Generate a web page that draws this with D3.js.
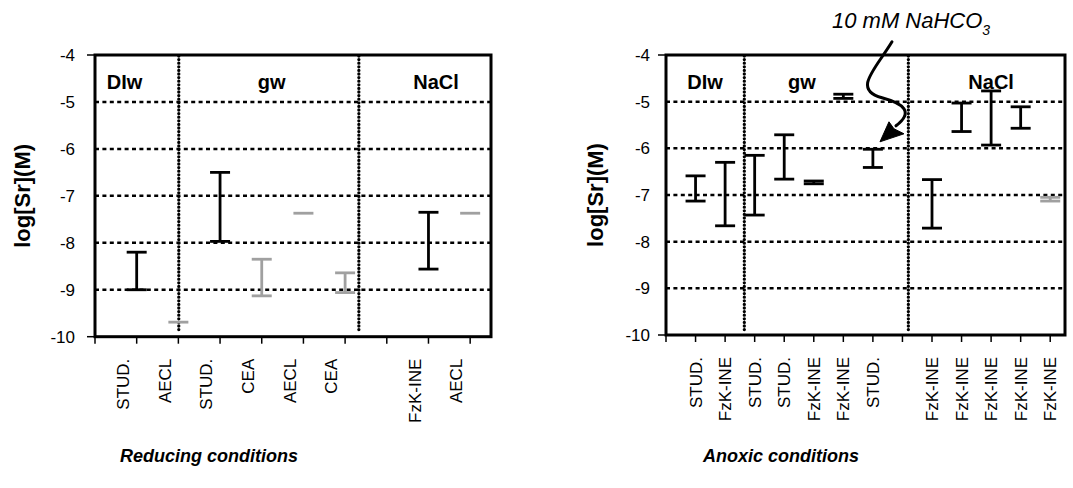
<!DOCTYPE html>
<html>
<head>
<meta charset="utf-8">
<script src="https://cdn.jsdelivr.net/npm/d3@7/dist/d3.min.js"></script>
<style>
  html, body { margin: 0; padding: 0; background: #fff; }
  svg { display: block; font-family: "Liberation Sans", Arial, Helvetica, sans-serif; }
</style>
</head>
<body>
<svg id="chart" width="1073" height="488"></svg>
<script>
// ---------------- data ----------------
const yTicks = [-4, -5, -6, -7, -8, -9, -10];
const yGrid = [-5, -6, -7, -8, -9];
const groupLabels = ["DIw", "gw", "NaCl"];

// Reducing conditions
const leftCats   = ["STUD.", "AECL", "STUD.", "CEA", "AECL", "CEA", "", "FzK-INE", "AECL"];
const leftHigh   = [-8.20, -9.69, -6.50, -8.35, -7.37, -8.64, null, -7.35, -7.37];
const leftLow    = [-9.00, -9.69, -7.97, -9.13, -7.37, -9.06, null, -8.56, -7.37];
const leftSeries = ["exp", "lit", "exp", "lit", "lit", "lit", null, "exp", "lit"];

// Anoxic conditions
const rightCats   = ["STUD.", "FzK-INE", "STUD.", "STUD.", "FzK-INE", "FzK-INE", "STUD.", "",
                     "FzK-INE", "FzK-INE", "FzK-INE", "FzK-INE", "FzK-INE"];
const rightHigh   = [-6.59, -6.30, -6.15, -5.71, -6.70, -4.84, -6.02, null, -6.67, -5.03, -4.77, -5.11, -7.05];
const rightLow    = [-7.13, -7.66, -7.43, -6.66, -6.76, -4.93, -6.41, null, -7.71, -5.64, -5.93, -5.57, -7.13];
const rightSeries = ["exp", "exp", "exp", "exp", "exp", "exp", "exp", null, "exp", "exp", "exp", "exp", "lit"];

const annotationText = "10 mM  NaHCO";
const annotationSub = "3";
const titles = ["Reducing conditions", "Anoxic conditions"];

// ---------------- layout ----------------
const colors = { exp: "#000000", lit: "#a0a0a0" };
const svg = d3.select("#chart");

const panels = [
  { cats: leftCats, high: leftHigh, low: leftLow, series: leftSeries,
    x0: 95, x1: 491, y0: 55, y1: 336.7, labelShift: -0.33, yLabelGap: 20, yTitleX: 22.5,
    dividers: [2.01, 6.33], groupPos: [0.71, 4.24, 8.18], title: titles[0], titleX: 209 },
  { cats: rightCats, high: rightHigh, low: rightLow, series: rightSeries,
    x0: 666, x1: 1065, y0: 55, y1: 335, labelShift: 0, yLabelGap: 16, yTitleX: 595,
    dividers: [2.65, 8.2], groupPos: [1.32, 4.6, 11.0], title: titles[1], titleX: 781 }
];

panels.forEach((p, pi) => {
  const n = p.cats.length;
  const x = d3.scaleLinear().domain([0, n + 0.5]).range([p.x0, p.x1]);
  const y = d3.scaleLinear().domain([-10, -4]).range([p.y1, p.y0]);
  p.x = x; p.y = y;
  const g = svg.append("g");

  // horizontal dashed grid
  g.selectAll("line.grid").data(yGrid).join("line")
    .attr("x1", p.x0).attr("x2", p.x1)
    .attr("y1", d => y(d)).attr("y2", d => y(d))
    .attr("stroke", "#000").attr("stroke-width", 2.5)
    .attr("stroke-dasharray", "4,3.4");

  // vertical dotted dividers
  g.selectAll("line.div").data(p.dividers).join("line")
    .attr("x1", d => x(d)).attr("x2", d => x(d))
    .attr("y1", p.y0 + 1).attr("y2", p.y1 - 4)
    .attr("stroke", "#000").attr("stroke-width", 3.3)
    .attr("stroke-linecap", "round")
    .attr("stroke-dasharray", "0,3.6");

  // frame
  g.append("rect")
    .attr("x", p.x0).attr("y", p.y0)
    .attr("width", p.x1 - p.x0).attr("height", p.y1 - p.y0)
    .attr("fill", "none").attr("stroke", "#000").attr("stroke-width", 3);

  // y axis tick labels
  g.selectAll("text.ytick").data(yTicks).join("text")
    .attr("x", p.x0 - p.yLabelGap).attr("y", d => y(d)).attr("dy", "0.35em")
    .attr("text-anchor", "end").attr("font-size", 17).attr("fill", "#000")
    .text(d => d);
  // y tick marks at the ends
  g.selectAll("line.ytm").data([yTicks[0], yTicks[yTicks.length - 1]]).join("line")
    .attr("x1", p.x0 - 8).attr("x2", p.x0)
    .attr("y1", d => y(d)).attr("y2", d => y(d))
    .attr("stroke", "#000").attr("stroke-width", 1.5);

  // y axis title
  g.append("text")
    .attr("transform", `translate(${p.yTitleX},${(p.y0 + p.y1) / 2}) rotate(-90)`)
    .attr("dy", "0.35em")
    .attr("text-anchor", "middle").attr("font-size", 22).attr("font-weight", "bold")
    .text("log[Sr](M)");

  // x ticks
  const idx = d3.range(0, n + 1);
  g.selectAll("line.xtm").data(idx).join("line")
    .attr("x1", d => x(d)).attr("x2", d => x(d))
    .attr("y1", p.y1).attr("y2", p.y1 + 7)
    .attr("stroke", "#000").attr("stroke-width", 1.5);

  // x labels
  g.selectAll("text.xl").data(p.cats.map((c, i) => ({ c, i: i + 1 })).filter(d => d.c))
    .join("text")
    .attr("transform", d => `translate(${x(d.i + p.labelShift)},${p.y1 + 22}) rotate(-90)`)
    .attr("dy", "0.35em")
    .attr("text-anchor", "end").attr("font-size", 17)
    .text(d => d.c);

  // group labels
  g.selectAll("text.grp").data(groupLabels).join("text")
    .attr("x", (d, i) => x(p.groupPos[i])).attr("y", 89)
    .attr("text-anchor", "middle").attr("font-size", 20).attr("font-weight", "bold")
    .text(d => d);

  // error bars
  const bars = p.cats.map((c, i) => ({ i: i + 1, hi: p.high[i], lo: p.low[i], s: p.series[i] }))
    .filter(d => d.hi !== null);
  const capW = 10;
  const bg = g.selectAll("g.bar").data(bars).join("g");
  bg.filter(d => d.hi !== d.lo).append("line")
    .attr("x1", d => x(d.i)).attr("x2", d => x(d.i))
    .attr("y1", d => y(d.hi)).attr("y2", d => y(d.lo))
    .attr("stroke", d => colors[d.s]).attr("stroke-width", 2.8);
  bg.append("line")
    .attr("x1", d => x(d.i) - capW).attr("x2", d => x(d.i) + capW)
    .attr("y1", d => y(d.hi)).attr("y2", d => y(d.hi))
    .attr("stroke", d => colors[d.s]).attr("stroke-width", 2.8);
  bg.filter(d => d.hi !== d.lo).append("line")
    .attr("x1", d => x(d.i) - capW).attr("x2", d => x(d.i) + capW)
    .attr("y1", d => y(d.lo)).attr("y2", d => y(d.lo))
    .attr("stroke", d => colors[d.s]).attr("stroke-width", 2.8);

  // bottom title
  svg.append("text")
    .attr("x", p.titleX).attr("y", 462)
    .attr("text-anchor", "middle").attr("font-size", 18)
    .attr("font-weight", "bold").attr("font-style", "italic")
    .text(p.title);
});

// ---------------- annotation (right panel) ----------------
const rp = panels[1];
const tip = [rp.x(7.24), rp.y(-5.86)];
const ann = svg.append("g");
const t = ann.append("text")
  .attr("x", 832).attr("y", 28)
  .attr("font-size", 22).attr("font-style", "italic");
t.append("tspan").text(annotationText);
t.append("tspan").attr("dy", 7).attr("font-size", 14).text(annotationSub);

const [tx, ty] = tip;
const curve = `M ${tx + 12} ${ty - 100}
  C ${tx - 5} ${ty - 72}, ${tx - 28} ${ty - 52}, ${tx + 2} ${ty - 44}
  C ${tx + 24} ${ty - 38}, ${tx + 34} ${ty - 30}, ${tx + 16} ${ty - 16}`;
ann.append("path").attr("d", curve)
  .attr("fill", "none").attr("stroke", "#000").attr("stroke-width", 3)
  .attr("stroke-linecap", "round");
ann.append("path")
  .attr("d", `M ${tx} ${ty} L ${tx + 9} ${ty - 20} L ${tx + 14} ${ty - 13} L ${tx + 24} ${ty - 8} Z`)
  .attr("fill", "#000").attr("stroke", "#000").attr("stroke-width", 1);
</script>
</body>
</html>
